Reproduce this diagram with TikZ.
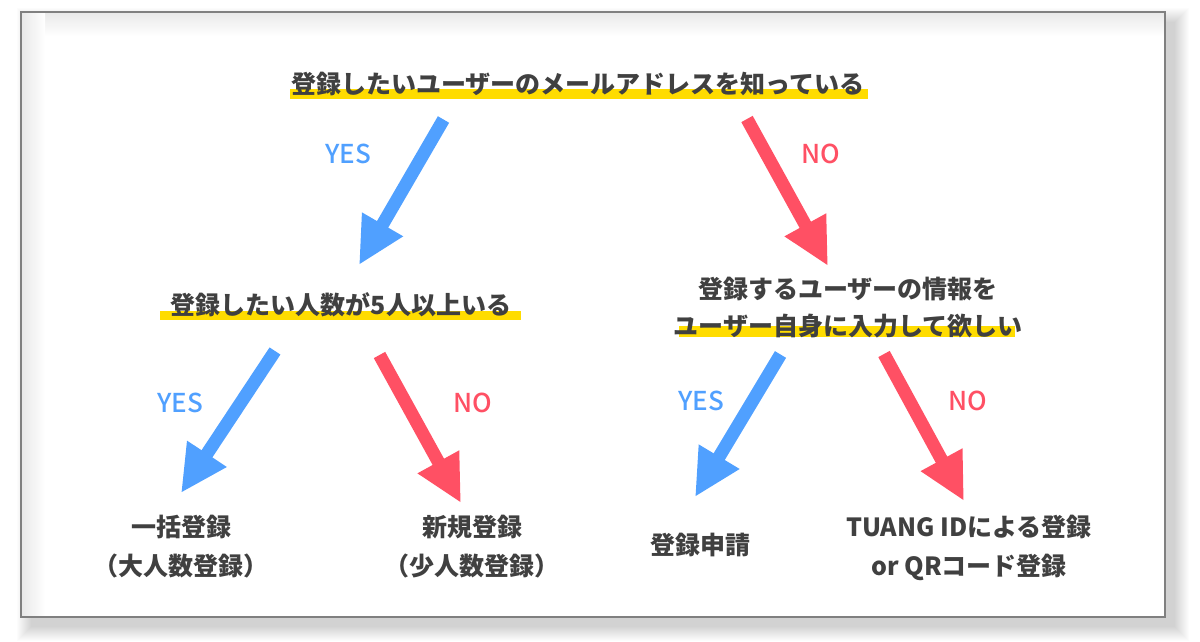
\documentclass[tikz,border=0pt]{standalone}
\usepackage{fontspec}
\newfontfamily\jp{Noto Sans CJK JP}
\newfontfamily\jpm{Noto Sans CJK JP Medium}
\usetikzlibrary{arrows.meta}
\definecolor{txt}{HTML}{404040}
\definecolor{yesblue}{HTML}{50A0FF}
\definecolor{nored}{HTML}{FF5064}
\definecolor{hl}{HTML}{FFDC00}
\definecolor{framegray}{HTML}{808080}
\tikzset{
  every node/.style={inner sep=0pt, outer sep=0pt},
  qtext/.style={font=\jp\bfseries\fontsize{25}{37}\selectfont, text=txt, align=center},
  restext/.style={font=\jp\bfseries\fontsize{25}{39}\selectfont, text=txt, align=center},
  yeslbl/.style={font=\jpm\fontsize{26}{28}\selectfont, text=yesblue},
  nolbl/.style={font=\jpm\fontsize{26}{28}\selectfont, text=nored},
  bigarrow/.style={line width=13pt, line cap=butt, -{Triangle[length=47pt,width=44pt]}},
  yesarrow/.style={bigarrow, draw=yesblue, color=yesblue},
  noarrow/.style={bigarrow, draw=nored, color=nored},
  hlbar/.style={fill=hl}
}
\begin{document}
\begin{tikzpicture}[x=1pt,y=-1pt]
\useasboundingbox (0,0) rectangle (1200,642);
\fill[white] (0,0) rectangle (1200,642);
% outer shadow
\foreach \i in {0,...,14}{
  \fill[black,opacity=0.011] (31-\i,22-\i) rectangle (1175+\i,627+\i);
}
% frame
\fill[white] (21,12) rectangle (1165,617);
\begin{scope}
  \clip (21,12) rectangle (1165,617);
  \shade[top color=black!9, bottom color=white] (21,12) rectangle (1165,36);
  \shade[left color=black!9, right color=white] (21,12) rectangle (45,617);
\end{scope}
\draw[framegray, line width=1.5pt] (21,12) rectangle (1165,617);

% highlight bars
\fill[hlbar] (290,89) rectangle (868,99);
\fill[hlbar] (160,311) rectangle (521,320);
\fill[hlbar] (679,326) rectangle (1015,337);

% question nodes
\node[qtext] (q1) at (578,84) {登録したいユーザーのメールアドレスを知っている};
\node[qtext] (q2) at (341,305) {登録したい人数が5人以上いる};
\node[qtext] (q3) at (848,308) {登録するユーザーの情報を\\ユーザー自身に入力して欲しい};

% result nodes
\node[restext] (r1) at (181,547) {一括登録\\（大人数登録）};
\node[restext] (r2) at (472,547) {新規登録\\（少人数登録）};
\node[restext] (r3) at (700,545) {登録申請};
\node[restext] (r4) at (969,548) {TUANG IDによる登録\\or QRコード登録};

% labels
\node[yeslbl] (y1) at (348,154) {YES};
\node[nolbl]  (n1) at (821,154) {NO};
\node[yeslbl] (y2) at (180,403) {YES};
\node[nolbl]  (n2) at (473,403) {NO};
\node[yeslbl] (y3) at (701,401) {YES};
\node[nolbl]  (n3) at (968,401) {NO};

% arrow ends
\coordinate (a1s) at (443.5,119.5); \coordinate (a1e) at (359,265);
\coordinate (a2s) at (747,119);     \coordinate (a2e) at (828,266);
\coordinate (a3s) at (275,351);     \coordinate (a3e) at (181,493);
\coordinate (a4s) at (379.5,355);   \coordinate (a4e) at (461,503);
\coordinate (a5s) at (780.5,354.5); \coordinate (a5e) at (695,497);
\coordinate (a6s) at (884,354);     \coordinate (a6e) at (964,501);

\draw[yesarrow] (a1s) -- (a1e);
\draw[noarrow]  (a2s) -- (a2e);
\draw[yesarrow] (a3s) -- (a3e);
\draw[noarrow]  (a4s) -- (a4e);
\draw[yesarrow] (a5s) -- (a5e);
\draw[noarrow]  (a6s) -- (a6e);
\end{tikzpicture}
\end{document}
